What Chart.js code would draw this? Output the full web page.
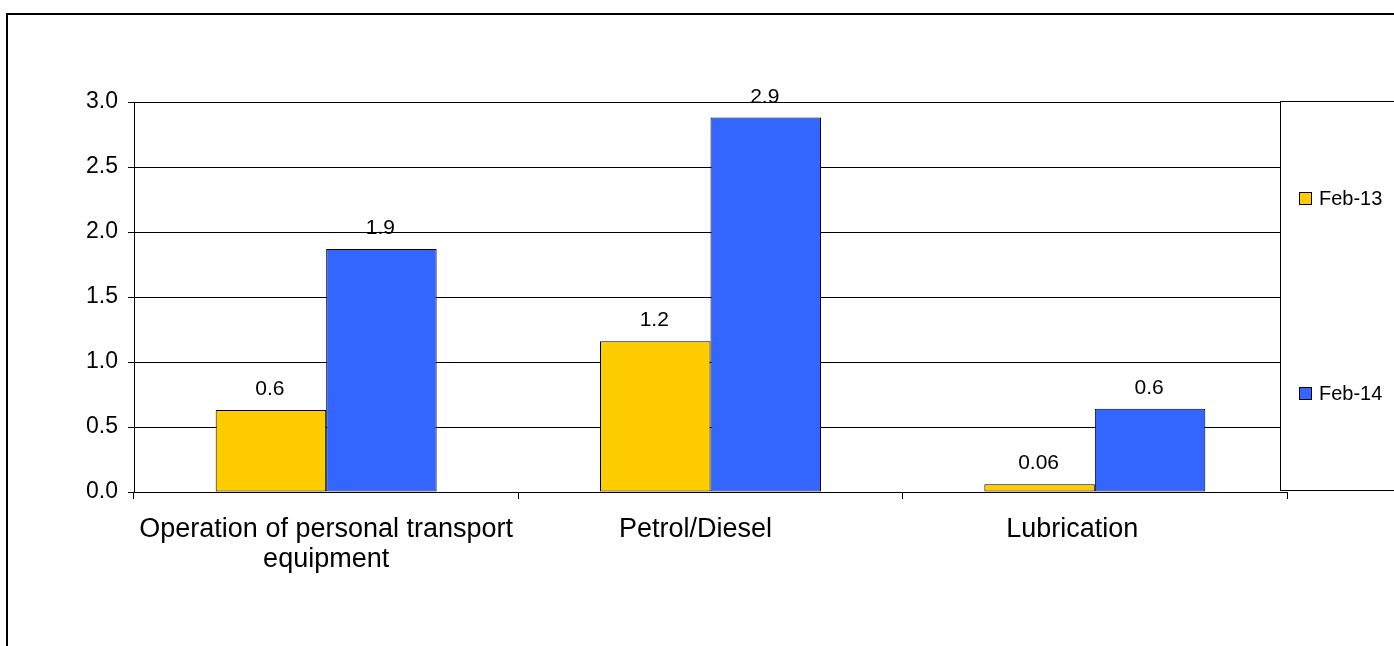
<!DOCTYPE html>
<html>
<head>
<meta charset="utf-8">
<script src="https://cdn.jsdelivr.net/npm/chart.js@4.4.1/dist/chart.umd.min.js"></script>
<style>
  html, body { margin: 0; padding: 0; background: #fff; }
  #wrap { width: 1394px; height: 646px; }
</style>
</head>
<body>
<div id="wrap"><canvas id="barChart" width="1394" height="646"></canvas></div>
<script>
// Data
const categories = [
    ["Operation of personal transport", "equipment"],
    "Petrol/Diesel",
    "Lubrication",
];
const feb13Values = [0.63, 1.16, 0.06];
const feb14Values = [1.87, 2.88, 0.64];
const yTicks = [0, 0.5, 1.0, 1.5, 2.0, 2.5, 3.0];

const FONT = "'Liberation Sans', Arial, sans-serif";
// the original labels sit a little left of centre; trailing spaces nudge them
const labelNudge = [0, 4, 6];

// Outer frame of the chart
const framePlugin = {
    id: "frame",
    beforeDraw(chart) {
        const c = chart.ctx;
        c.save();
        c.fillStyle = "#fff";
        c.fillRect(0, 0, chart.width, chart.height);
        c.strokeStyle = "#000";
        c.lineWidth = 2;
        c.strokeRect(7, 14, chart.width + 20, chart.height + 20);
        c.restore();
    },
};

// Value labels above each bar
const valueLabels = {
    id: "valueLabels",
    afterDatasetsDraw(chart) {
        const c = chart.ctx;
        c.save();
        c.font = "21px " + FONT;
        c.fillStyle = "#000";
        c.textAlign = "center";
        c.textBaseline = "alphabetic";
        chart.data.datasets.forEach((ds, i) => {
            chart.getDatasetMeta(i).data.forEach((bar, j) => {
                const v = ds.data[j];
                const txt = v < 0.1 ? v.toFixed(2) : v.toFixed(1);
                c.fillText(txt, bar.x - 1, bar.y - 15);
            });
        });
        c.restore();
    },
};

// Boxed legend to the right of the plot
const boxLegend = {
    id: "boxLegend",
    afterDraw(chart) {
        const c = chart.ctx;
        const area = chart.chartArea;
        const left = 1280, top = area.top - 1, bottom = area.bottom - 2;
        c.save();
        c.fillStyle = "#fff";
        c.fillRect(left, top, chart.width - left + 5, bottom - top);
        c.strokeStyle = "#000";
        c.lineWidth = 1;
        c.strokeRect(left + 0.5, top + 0.5, chart.width, bottom - top);
        const n = chart.data.datasets.length;
        c.font = "20px " + FONT;
        c.textBaseline = "middle";
        chart.data.datasets.forEach((ds, i) => {
            const y = Math.round(top + (bottom - top) * (2 * i + 1) / (2 * n));
            c.fillStyle = ds.backgroundColor;
            c.fillRect(left + 19, y - 6, 12, 12);
            c.strokeStyle = "#000";
            c.strokeRect(left + 19.5, y - 5.5, 12, 12);
            c.fillStyle = "#000";
            c.fillText(ds.label, left + 39, y + 1);
        });
        c.restore();
    },
};

const ctx = document.getElementById("barChart").getContext("2d");
const barChart = new Chart(ctx, {
    type: "bar",
    data: {
        labels: categories,
        datasets: [
            {
                label: "Feb-13",
                data: feb13Values,
                backgroundColor: "#FFCC00",
                borderColor: "#000",
                borderWidth: 1,
                borderSkipped: false,
            },
            {
                label: "Feb-14",
                data: feb14Values,
                backgroundColor: "#3366FF",
                borderColor: "#000",
                borderWidth: 1,
                borderSkipped: false,
            },
        ],
    },
    options: {
        responsive: false,
        animation: false,
        devicePixelRatio: 1,
        categoryPercentage: 0.575,
        barPercentage: 1.0,
        layout: { padding: { left: 0, top: 102, right: 107, bottom: 0 } },
        plugins: {
            legend: { display: false },
            tooltip: { enabled: false },
        },
        scales: {
            x: {
                grid: {
                    offset: true,
                    drawOnChartArea: false,
                    drawTicks: true,
                    tickLength: 7,
                    color: "#000",
                },
                border: { color: "#000", width: 1 },
                ticks: {
                    color: "#000",
                    font: { family: FONT, size: 27, lineHeight: 1.12 },
                    padding: 15,
                    maxRotation: 0,
                    autoSkip: false,
                    callback: function (value, index) {
                        const lbl = categories[index];
                        if (Array.isArray(lbl)) return lbl;
                        return lbl + " ".repeat(labelNudge[index]);
                    },
                },
                afterFit(scale) { scale.height = 154; },
            },
            y: {
                min: 0,
                max: 3,
                afterBuildTicks(scale) {
                    scale.ticks = yTicks.map(v => ({ value: v }));
                },
                grid: { color: "#000", tickLength: 6 },
                border: { color: "#000", width: 1 },
                ticks: {
                    color: "#000",
                    font: { family: FONT, size: 23 },
                    padding: 10,
                    callback: v => v.toFixed(1),
                },
                afterFit(scale) { scale.width = 134; },
            },
        },
    },
    plugins: [framePlugin, valueLabels, boxLegend],
});
</script>
</body>
</html>
